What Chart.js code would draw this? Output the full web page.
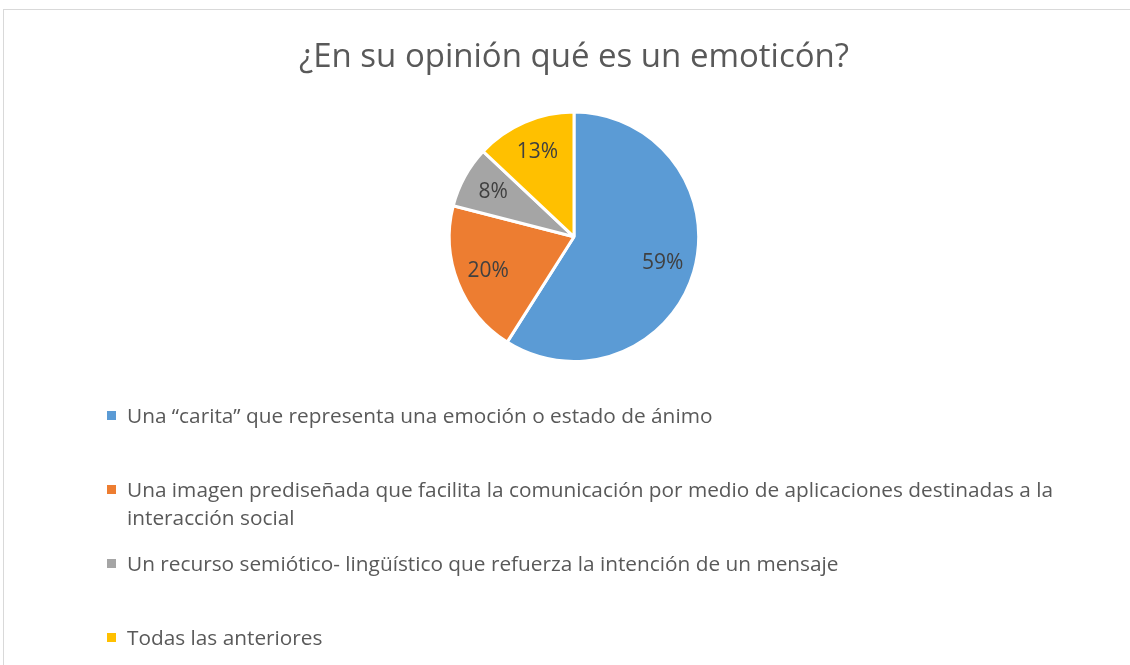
<!DOCTYPE html>
<html>
<head>
<meta charset="utf-8">
<script src="https://cdn.jsdelivr.net/npm/chart.js@4"></script>
<style>
  html, body { margin: 0; padding: 0; background: #fff; }
  #wrap { position: relative; width: 1130px; height: 665px; overflow: hidden; }
  #frame {
    position: absolute; left: 3px; top: 9px; width: 1140px; height: 700px;
    border: 1px solid #d9d9d9; box-sizing: border-box;
  }
  canvas { position: absolute; left: 0; top: 0; }
  #legend {
    position: absolute; left: 105px; top: 0; width: 970px;
    font-family: 'Open Sans', 'Noto Sans', sans-serif; font-size: 20.8px; color: #595959;
    line-height: 28px;
  }
  #legend .item { position: absolute; left: 0; width: 100%; padding-left: 22px; box-sizing: border-box; }
  #legend .box { position: absolute; left: 2px; top: 10px; width: 9px; height: 9px; }
</style>
</head>
<body>
<div id="wrap">
  <div id="frame"></div>
  <canvas id="chart" width="1130" height="665"></canvas>
  <div id="legend"></div>
</div>
<script>
const title = '¿En su opinión qué es un emoticón?';
const categories = [
    ' Una \u201Ccarita\u201D que representa una emoción o estado de ánimo',
    'Una imagen prediseñada que facilita la comunicación por medio de aplicaciones destinadas a la interacción social',
    'Un recurso semiótico- lingüístico que refuerza la intención de un mensaje',
    'Todas las anteriores'
];
const percentages = [59, 20, 8, 13];
const colors = ['#5B9BD5', '#ED7D31', '#A5A5A5', '#FFC000'];

// draws the percentage inside each slice
const sliceLabels = {
    id: 'sliceLabels',
    afterDatasetsDraw(chart) {
        const ctx = chart.ctx;
        const meta = chart.getDatasetMeta(0);
        ctx.save();
        ctx.font = "21px 'Open Sans', 'Noto Sans', sans-serif";
        ctx.fillStyle = '#404040';
        ctx.textAlign = 'center';
        ctx.textBaseline = 'middle';
        meta.data.forEach((arc, i) => {
            const mid = (arc.startAngle + arc.endAngle) / 2;
            const r = arc.outerRadius * 0.74;
            ctx.fillText(percentages[i] + '%', arc.x + Math.cos(mid) * r, arc.y + Math.sin(mid) * r);
        });
        ctx.restore();
    }
};

new Chart(document.getElementById('chart'), {
    type: 'pie',
    data: {
        labels: categories,
        datasets: [{
            data: percentages,
            backgroundColor: colors,
            borderColor: '#ffffff',
            borderWidth: 3
        }]
    },
    options: {
        responsive: false,
        animation: false,
        layout: { padding: { top: 0, left: 200, right: 182, bottom: 302 } },
        plugins: {
            legend: { display: false },
            tooltip: { enabled: false },
            title: {
                display: true,
                text: title,
                color: '#595959',
                font: { family: "'Open Sans', 'Noto Sans', sans-serif", size: 33, weight: 'normal', lineHeight: 1.2 },
                padding: { top: 38, bottom: 33 }
            }
        }
    },
    plugins: [sliceLabels]
});

// legend entries sit on a fixed pitch, like the original
const legend = document.getElementById('legend');
categories.forEach((label, i) => {
    const item = document.createElement('div');
    item.className = 'item';
    item.style.top = (401 + i * 74) + 'px';
    const box = document.createElement('span');
    box.className = 'box';
    box.style.background = colors[i];
    item.appendChild(box);
    item.appendChild(document.createTextNode(label));
    legend.appendChild(item);
});
</script>
</body>
</html>
